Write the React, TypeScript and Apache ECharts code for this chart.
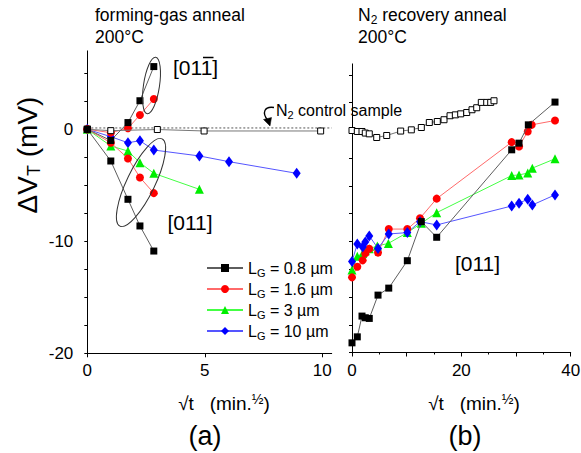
import React, { useEffect, useRef } from 'react';
import * as echarts from 'echarts';

const FONT = '"Liberation Sans", Arial, Helvetica, sans-serif';

// ---------- panel (a): forming-gas anneal ----------
const aBlack011X = [0, 1, 1.73, 2.24, 2.83];
const aBlack011Y = [0, -2.83, -6.25, -8.63, -10.87];
const aBlack01mX = [0, 1, 1.73, 2.24, 2.83];
const aBlack01mY = [0, -1.0, 0.6, 2.55, 5.6];
const aRed011X = [0, 1, 1.73, 2.24, 2.83];
const aRed011Y = [0, -1.2, -2.6, -4.3, -5.7];
const aRed01mX = [0, 1, 1.73, 2.24, 2.83];
const aRed01mY = [0, -0.3, 0.09, 1.28, 2.7];
const aGreenX = [0, 1, 1.73, 2.24, 2.83, 4.77];
const aGreenY = [0, -1.49, -1.94, -2.98, -3.93, -5.36];
const aBlueX = [0, 1, 1.73, 2.24, 2.83, 4.77, 6.03, 8.91];
const aBlueY = [0, -0.66, -1.2, -1.02, -1.85, -2.38, -2.89, -3.93];
const aCtrlX = [0, 1, 2.98, 4.97, 9.93];
const aCtrlY = [0, -0.12, -0.02, -0.15, -0.15];
const aRefX = [0, 10.4];
const aRefY = [0.12, 0.12];

// ---------- panel (b): N2 recovery anneal ----------
const bCtrlX = [0, 0.97, 1.83, 2.43, 3.16, 4.52, 6.35, 8.9, 10.85, 12.68, 14.14, 15.6, 16.83, 17.93, 18.9, 19.88, 20.98, 21.95, 22.81, 23.65, 24.64, 25.37, 25.97];
const bCtrlY = [0, -0.09, -0.09, -0.23, -0.3, -0.63, -0.45, -0.05, 0.06, 0.27, 0.72, 0.81, 0.97, 1.33, 1.41, 1.5, 1.62, 1.87, 2.05, 2.53, 2.53, 2.53, 2.68];
const bBlackX = [0, 0.97, 1.83, 2.43, 3.16, 4.76, 6.72, 10.12, 12.68, 15.49, 29.21, 30.55, 32.25, 37.13];
const bBlackY = [-19.13, -18.59, -16.72, -16.87, -16.93, -14.83, -14.2, -11.73, -8.21, -9.62, -1.74, -1.14, 0.51, 2.56];
const bRedX = [0, 0.97, 1.95, 2.43, 3.16, 4.76, 6.72, 10.12, 12.44, 15.49, 29.21, 30.55, 32.14, 32.87, 37.13];
const bRedY = [-13.23, -12.27, -11.7, -11.07, -10.65, -11.0, -8.88, -8.88, -7.9, -6.14, -1.05, -1.44, -0.09, 0.51, 0.9];
const bGreenX = [0, 0.97, 1.95, 2.43, 3.16, 4.63, 6.65, 10.12, 12.68, 15.49, 29.21, 30.55, 32.14, 32.98, 37.13];
const bGreenY = [-12.57, -11.34, -11.07, -10.83, -10.66, -10.4, -10.17, -9.2, -8.36, -7.4, -4.06, -4.0, -3.84, -3.39, -2.55];
const bBlueX = [0, 0.97, 1.95, 2.43, 3.16, 4.76, 6.72, 10.12, 12.44, 15.49, 29.21, 30.55, 32.14, 32.98, 37.13];
const bBlueY = [-11.8, -10.22, -10.5, -10.05, -9.5, -10.62, -9.32, -9.2, -8.21, -8.51, -6.8, -6.55, -6.19, -6.71, -5.8];

// ---------- names / ticks ----------
const seriesNames = ['LG = 0.8 µm', 'LG = 1.6 µm', 'LG = 3 µm', 'LG = 10 µm'];
const yTickValues = [-20, -17.5, -15, -12.5, -10, -7.5, -5, -2.5, 0, 2.5, 5];
const yLabelValues = [-20, -10, 0];
const aXTickValues = [0, 5, 10];
const bXLabelStep = 20;

const zip = (xs: number[], ys: number[]) => xs.map((x, i) => [x, ys[i]]);

const BLACK = { marker: '#000000', line: '#5e5e5e', symbol: 'rect', size: 7 };
const RED = { marker: '#ff0000', line: '#ff6a6a', symbol: 'circle', size: 8 };
const GREEN = { marker: '#00ee00', line: '#44ff44', symbol: 'triangle', size: 9 };
const BLUE = { marker: '#0000ff', line: '#5555ff', symbol: 'diamond', size: [8, 11] };

function mk(name: string, xs: number[], ys: number[], idx: number, st: any, z = 2) {
  return {
    type: 'line',
    name,
    xAxisIndex: idx,
    yAxisIndex: idx,
    data: zip(xs, ys),
    symbol: st.symbol,
    symbolSize: st.size,
    showAllSymbol: true,
    itemStyle: { color: st.marker, borderWidth: 0 },
    lineStyle: { color: st.line, width: 1 },
    z,
    silent: true,
  };
}

function ctrl(xs: number[], ys: number[], idx: number) {
  return {
    type: 'line',
    name: 'control',
    xAxisIndex: idx,
    yAxisIndex: idx,
    data: zip(xs, ys),
    symbol: 'rect',
    symbolSize: 6,
    showAllSymbol: true,
    itemStyle: { color: '#ffffff', borderColor: '#000000', borderWidth: 1 },
    lineStyle: { color: '#777777', width: 1 },
    z: 3,
    silent: true,
  };
}

export default function App() {
  const ref = useRef<HTMLDivElement>(null);

  useEffect(() => {
    document.body.style.margin = '0';
    const chart = echarts.init(ref.current!, null, { renderer: 'svg' });

    const axisCommon = {
      axisLine: { show: true, onZero: false, lineStyle: { color: '#000', width: 1 } },
      splitLine: { show: false },
    };

    const sub = { fontSize: 11, verticalAlign: 'bottom', lineHeight: 20, fontFamily: FONT, color: '#000' };

    const option: any = {
      animation: false,
      backgroundColor: '#ffffff',
      textStyle: { fontFamily: FONT },
      grid: [
        { left: 87.3, top: 50.9, width: 244.4, height: 302.4, outerBoundsMode: 'none', containLabel: false },
        { left: 352, top: 63.9, width: 218.7, height: 288.6, outerBoundsMode: 'none', containLabel: false },
      ],
      xAxis: [
        {
          ...axisCommon,
          gridIndex: 0,
          type: 'value',
          min: 0,
          max: 10.4,
          position: 'bottom',
          axisTick: { show: true, length: 4, customValues: aXTickValues, lineStyle: { color: '#000' } },
          axisLabel: { customValues: aXTickValues, fontSize: 17, color: '#000', margin: 9, fontFamily: FONT },
        },
        {
          ...axisCommon,
          gridIndex: 1,
          type: 'value',
          min: 0,
          max: 40,
          interval: 10,
          position: 'bottom',
          axisTick: { show: true, length: 4, lineStyle: { color: '#000' } },
          minorTick: { show: true, splitNumber: 2, length: 2, lineStyle: { color: '#000' } },
          axisLabel: {
            fontSize: 17,
            color: '#000',
            margin: 9,
            fontFamily: FONT,
            formatter: (v: number) => (v % bXLabelStep === 0 ? String(v) : ''),
          },
        },
      ],
      yAxis: [
        {
          ...axisCommon,
          gridIndex: 0,
          type: 'value',
          min: -20,
          max: 7,
          axisTick: { show: true, length: 3, customValues: yTickValues, lineStyle: { color: '#000' } },
          axisLabel: { customValues: yLabelValues, fontSize: 17, color: '#000', margin: 14, fontFamily: FONT },
        },
        {
          ...axisCommon,
          gridIndex: 1,
          type: 'value',
          min: -20,
          max: 6,
          axisTick: { show: true, length: 3, customValues: yTickValues, lineStyle: { color: '#000' } },
          axisLabel: { show: false },
        },
      ],
      legend: {
        data: seriesNames,
        orient: 'vertical',
        left: 201,
        top: 253,
        itemWidth: 36,
        itemHeight: 10,
        itemGap: 1,
        selectedMode: false,
        formatter: (n: string) => n.replace('LG', 'L{sub|G}'),
        textStyle: {
          fontSize: 16,
          lineHeight: 20,
          color: '#000',
          fontFamily: FONT,
          rich: { sub },
        },
      },
      series: [
        {
          type: 'line',
          name: 'ref',
          xAxisIndex: 0,
          yAxisIndex: 0,
          data: zip(aRefX, aRefY),
          symbol: 'none',
          lineStyle: { color: '#555', width: 1, type: [2, 2] },
          silent: true,
          z: 1,
        },
        ctrl(aCtrlX, aCtrlY, 0),
        mk(seriesNames[3], aBlueX, aBlueY, 0, BLUE),
        mk(seriesNames[2], aGreenX, aGreenY, 0, GREEN),
        mk(seriesNames[1], aRed011X, aRed011Y, 0, RED),
        mk(seriesNames[1], aRed01mX, aRed01mY, 0, RED),
        mk(seriesNames[0], aBlack011X, aBlack011Y, 0, BLACK, 4),
        mk(seriesNames[0], aBlack01mX, aBlack01mY, 0, BLACK, 4),
        ctrl(bCtrlX, bCtrlY, 1),
        mk(seriesNames[2], bGreenX, bGreenY, 1, GREEN),
        mk(seriesNames[1], bRedX, bRedY, 1, RED),
        mk(seriesNames[3], bBlueX, bBlueY, 1, BLUE),
        mk(seriesNames[0], bBlackX, bBlackY, 1, BLACK, 4),
      ],
      graphic: [
        // titles
        { type: 'text', x: 95, y: 15, style: { text: 'forming-gas anneal', font: `17.5px ${FONT}`, fill: '#000', verticalAlign: 'middle', textVerticalAlign: 'middle' } },
        { type: 'text', x: 95, y: 37, style: { text: '200°C', font: `17.5px ${FONT}`, fill: '#000', verticalAlign: 'middle', textVerticalAlign: 'middle' } },
        {
          type: 'text', x: 358, y: 15,
          style: {
            text: 'N{s|2} recovery anneal', font: `17.5px ${FONT}`, fontSize: 17.5, fontFamily: FONT, fill: '#000', lineHeight: 22,
            verticalAlign: 'middle', textVerticalAlign: 'middle',
            rich: { s: { fontSize: 12, fontFamily: FONT, verticalAlign: 'bottom', lineHeight: 22, fill: '#000' } },
          },
        },
        { type: 'text', x: 358, y: 37, style: { text: '200°C', font: `17.5px ${FONT}`, fill: '#000', verticalAlign: 'middle', textVerticalAlign: 'middle' } },
        // y axis name
        {
          type: 'text', x: 27, y: 155, rotation: Math.PI / 2,
          style: {
            text: 'ΔV{s|T} (mV)', fontSize: 28, fontFamily: FONT, fill: '#000', lineHeight: 32,
            align: 'center', textAlign: 'center', verticalAlign: 'middle', textVerticalAlign: 'middle',
            rich: { s: { fontSize: 18, fontFamily: FONT, verticalAlign: 'bottom', lineHeight: 32, fill: '#000' } },
          },
        },
        // x axis names
        {
          type: 'text', x: 224, y: 403,
          style: {
            text: '√t   (min.{h|½})', fontSize: 19, fontFamily: FONT, fill: '#000', lineHeight: 22,
            align: 'center', textAlign: 'center', verticalAlign: 'middle', textVerticalAlign: 'middle',
            rich: { h: { fontSize: 14, fontFamily: FONT, verticalAlign: 'top', lineHeight: 22, fill: '#000' } },
          },
        },
        {
          type: 'text', x: 474, y: 403,
          style: {
            text: '√t   (min.{h|½})', fontSize: 19, fontFamily: FONT, fill: '#000', lineHeight: 22,
            align: 'center', textAlign: 'center', verticalAlign: 'middle', textVerticalAlign: 'middle',
            rich: { h: { fontSize: 14, fontFamily: FONT, verticalAlign: 'top', lineHeight: 22, fill: '#000' } },
          },
        },
        // panel letters
        { type: 'text', x: 205, y: 436, style: { text: '(a)', font: `27px ${FONT}`, fill: '#000', align: 'center', textAlign: 'center', verticalAlign: 'middle', textVerticalAlign: 'middle' } },
        { type: 'text', x: 465, y: 436, style: { text: '(b)', font: `27px ${FONT}`, fill: '#000', align: 'center', textAlign: 'center', verticalAlign: 'middle', textVerticalAlign: 'middle' } },
        // direction labels
        { type: 'text', x: 173, y: 67, style: { text: '[011]', font: `21px ${FONT}`, fill: '#000', verticalAlign: 'middle', textVerticalAlign: 'middle' } },
        { type: 'line', shape: { x1: 203, y1: 57.5, x2: 213.5, y2: 57.5 }, style: { stroke: '#000', lineWidth: 1.5 } },
        { type: 'text', x: 190, y: 222.5, style: { text: '[011]', font: `21px ${FONT}`, fill: '#000', align: 'center', textAlign: 'center', verticalAlign: 'middle', textVerticalAlign: 'middle' } },
        { type: 'text', x: 477.5, y: 263, style: { text: '[011]', font: `21px ${FONT}`, fill: '#000', align: 'center', textAlign: 'center', verticalAlign: 'middle', textVerticalAlign: 'middle' } },
        // ellipses
        { type: 'ellipse', x: 151.5, y: 85.5, rotation: -0.15, shape: { cx: 0, cy: 0, rx: 8, ry: 28.5 }, style: { fill: 'none', stroke: '#333', lineWidth: 1 }, z: 10 },
        { type: 'ellipse', x: 141, y: 182.5, rotation: -0.45, shape: { cx: 0, cy: 0, rx: 14, ry: 48.5 }, style: { fill: 'none', stroke: '#333', lineWidth: 1 }, z: 10 },
        // N2 control annotation
        {
          type: 'text', x: 276, y: 110,
          style: {
            text: 'N{s|2} control sample', fontSize: 16, fontFamily: FONT, fill: '#000', lineHeight: 20,
            verticalAlign: 'middle', textVerticalAlign: 'middle',
            rich: { s: { fontSize: 11, fontFamily: FONT, verticalAlign: 'bottom', lineHeight: 20, fill: '#000' } },
          },
        },
        { type: 'bezierCurve', shape: { x1: 274, y1: 107.5, cpx1: 264, cpy1: 106, cpx2: 262, cpy2: 113, x2: 267.5, y2: 120 }, style: { stroke: '#000', lineWidth: 1.3, fill: 'none' } },
        { type: 'polygon', shape: { points: [[270, 126], [263.5, 119.5], [271.5, 117.5]] }, style: { fill: '#000', stroke: '#000', lineWidth: 0.5 } },
      ],
    };

    chart.setOption(option);
    return () => chart.dispose();
  }, []);

  return <div ref={ref} style={{ width: 581, height: 453 }} />;
}
